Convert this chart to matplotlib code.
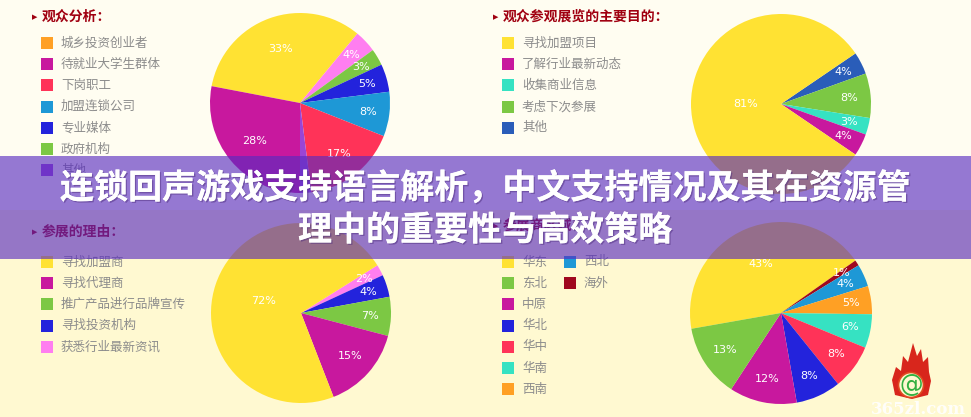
import matplotlib
matplotlib.use('Agg')
import matplotlib.pyplot as plt
from matplotlib.patches import Rectangle, Polygon, Circle
import matplotlib.patheffects as pe
import numpy as np

plt.rcParams['font.family'] = ['Noto Sans CJK SC', 'DejaVu Sans']

W, H = 971, 417

YEL = '#FFE233'; MAG = '#C8189E'; RED = '#FF3358'; CYN = '#1E98D6'
BLU = '#2323DC'; GRN = '#7CC844'; PNK = '#FF7EF0'; PUR = '#9A45D6'
ORG = '#FFA024'; TEA = '#36E2C2'; DBL = '#2A5DB9'; DRD = '#A0081E'

# ---- chart 1: audience analysis ----
c1_title = '观众分析：'
c1_legend = ['城乡投资创业者', '待就业大学生群体', '下岗职工', '加盟连锁公司', '专业媒体', '政府机构', '其他']
c1_legend_colors = [ORG, MAG, RED, CYN, BLU, GRN, PUR]
c1_values = [33, 4, 3, 5, 8, 17, 2, 28]
c1_colors = [YEL, PNK, GRN, BLU, CYN, RED, PUR, MAG]
c1_show = [True, True, True, True, True, True, False, True]

# ---- chart 2: main purpose of visit ----
c2_title = '观众参观展览的主要目的：'
c2_legend = ['寻找加盟项目', '了解行业最新动态', '收集商业信息', '考虑下次参展', '其他']
c2_legend_colors = [YEL, MAG, TEA, GRN, DBL]
c2_values = [4, 8, 3, 4, 81]
c2_colors = [DBL, GRN, TEA, MAG, YEL]

# ---- chart 3: reasons for exhibiting ----
c3_title = '参展的理由：'
c3_legend = ['寻找加盟商', '寻找代理商', '推广产品进行品牌宣传', '寻找投资机构', '获悉行业最新资讯']
c3_legend_colors = [YEL, MAG, GRN, BLU, PNK]
c3_values = [2, 4, 7, 15, 72]
c3_colors = [PNK, BLU, GRN, MAG, YEL]

# ---- chart 4: exhibitor regions ----
c4_title = '参展商区域：'
c4_legend_a = ['华东', '东北', '中原', '华北', '华中', '华南', '西南']
c4_legend_a_colors = [YEL, GRN, MAG, BLU, RED, TEA, ORG]
c4_legend_b = ['西北', '海外']
c4_legend_b_colors = [CYN, DRD]
c4_values = [43, 1, 4, 5, 6, 8, 8, 12, 13]
c4_colors = [YEL, DRD, CYN, ORG, TEA, RED, BLU, MAG, GRN]

banner_lines = ['连锁回声游戏支持语言解析，中文支持情况及其在资源管', '理中的重要性与高效策略']

fig = plt.figure(figsize=(W / 100, H / 100), dpi=100)
ax = fig.add_axes([0, 0, 1, 1])

def Y(y):
    return H - y

# background
ax.add_patch(Rectangle((0, Y(210)), W, 210, facecolor='#FFFDF1', edgecolor='none', zorder=0))
ax.add_patch(Rectangle((0, 0), W, H - 210, facecolor='#FFF9D1', edgecolor='none', zorder=0))

def draw_pie(values, colors, cx, cy, r, start, show=None):
    wedges, _ = ax.pie(values, colors=colors, startangle=start, counterclock=False,
                       center=(cx, Y(cy)), radius=r, wedgeprops=dict(linewidth=0),
                       frame=True)
    tot = float(sum(values))
    if show is None:
        show = [True] * len(values)
    for w, v, s in zip(wedges, values, show):
        w.set_zorder(2)
        if not s:
            continue
        th = np.deg2rad((w.theta1 + w.theta2) / 2)
        d = r * (0.8 - 0.5 * v / tot)
        ax.text(cx + d * np.cos(th), Y(cy) + d * np.sin(th), f'{v}%', color='white',
                fontsize=8, family='DejaVu Sans', ha='center', va='center', zorder=3)

draw_pie(c1_values, c1_colors, 300, 103, 90, 169.2, c1_show)
draw_pie(c2_values, c2_colors, 781, 104, 90, 34.2)
draw_pie(c3_values, c3_colors, 301, 313, 90, 32)
draw_pie(c4_values, c4_colors, 781, 313, 91, 190)

def draw_title(x, y, text):
    ax.text(x - 7, Y(y), '▶', color='#A00010', fontsize=5, ha='center', va='center',
            family='DejaVu Sans', zorder=3)
    ax.text(x, Y(y), text, color='#A00010', fontsize=10, fontweight='bold',
            ha='left', va='center', zorder=3)

def draw_legend(x, y0, labels, colors, step=21.2):
    for i, (lab, col) in enumerate(zip(labels, colors)):
        y = y0 + i * step
        ax.add_patch(Rectangle((x - 6, Y(y) - 6), 12, 12, facecolor=col, edgecolor='none', zorder=3))
        ax.text(x + 14, Y(y), lab, color='#8C8C8C', fontsize=9, ha='left', va='center', zorder=3)

draw_title(42, 17, c1_title)
draw_legend(47, 43, c1_legend, c1_legend_colors)
draw_title(503, 17, c2_title)
draw_legend(508, 43, c2_legend, c2_legend_colors)
draw_title(42, 232, c3_title)
draw_legend(47, 262, c3_legend, c3_legend_colors)
draw_title(503, 226, c4_title)
draw_legend(508, 262, c4_legend_a, c4_legend_a_colors)
draw_legend(570, 262, c4_legend_b, c4_legend_b_colors)

# logo
flame = [(895, 395), (892, 380), (896, 367), (901, 371), (903, 356), (908, 362), (913, 343),
         (917, 356), (921, 349), (923, 362), (928, 357), (929, 372), (931, 381), (928, 395), (912, 399)]
ax.add_patch(Polygon([(x, Y(y)) for x, y in flame], closed=True, facecolor='#D8261C',
                     edgecolor='none', zorder=3))
ax.add_patch(Circle((911, Y(385)), 12.5, facecolor='#FFF9D1', edgecolor='#E04A20', lw=1.2, zorder=4))
ax.text(911, Y(385), '@', color='#33B040', fontsize=17, ha='center', va='center',
        family='DejaVu Sans', zorder=5)
ax.text(918, Y(409), '365zl.com', color='white', fontsize=12, fontweight='bold',
        family='DejaVu Serif', ha='center', va='center', alpha=0.9, zorder=5)

# banner
ax.add_patch(Rectangle((0, Y(259)), W, 259 - 156, facecolor='#582AC0', alpha=0.63,
                       edgecolor='none', zorder=6))
for txt, yy in zip(banner_lines, [188, 230]):
    ax.text(485, Y(yy), txt, color='white', fontsize=24.5, fontweight=900, ha='center',
            va='center', zorder=7,
            path_effects=[pe.withSimplePatchShadow(offset=(1, -1), shadow_rgbFace='#503080', alpha=0.5), pe.Normal()])

ax.set_xlim(0, W)
ax.set_ylim(0, H)
ax.set_aspect('equal')
ax.axis('off')
fig.savefig('out.png', dpi=100)
